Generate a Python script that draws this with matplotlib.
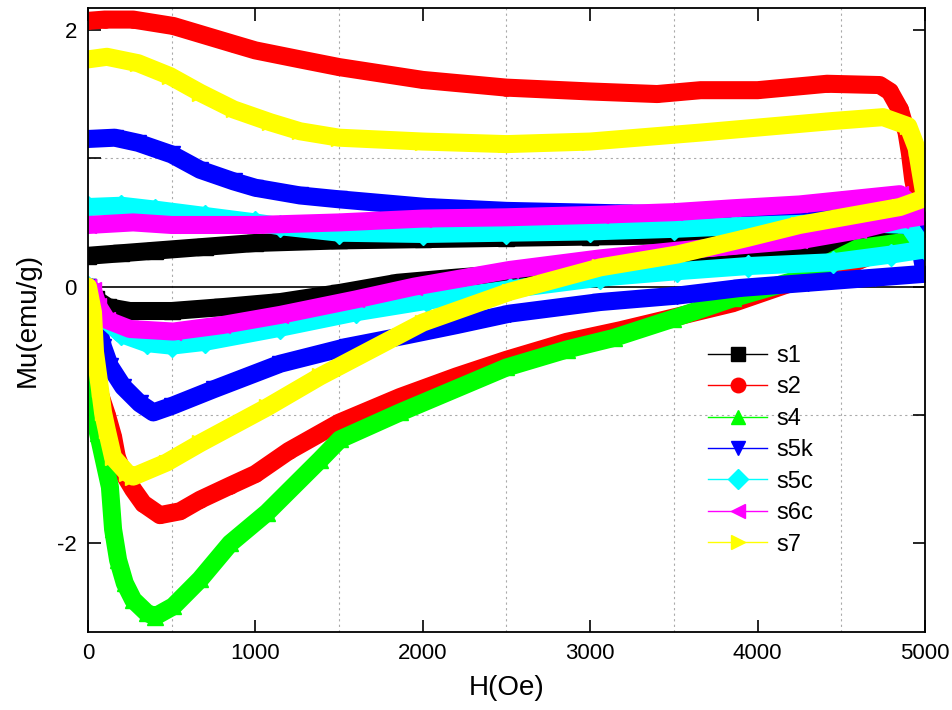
import numpy as np
import matplotlib.pyplot as plt
from matplotlib.ticker import MultipleLocator

plt.rcParams['font.family'] = ['Liberation Sans', 'DejaVu Sans']
plt.rcParams['axes.unicode_minus'] = False

# field sweeps: up branch (0 -> 5000 Oe) then down branch (5000 -> 0 Oe)
h_s1 = [0, 50, 120, 250, 500, 800, 1150, 1500, 1850, 2200, 2500, 2900, 3300, 3700, 4100, 4500, 4750, 5000,
        4500, 4000, 3500, 3000, 2500, 2000, 1500, 1000, 700, 400, 200, 0]
m_s1 = [0.0, -0.10, -0.16, -0.19, -0.19, -0.16, -0.12, -0.05, 0.03, 0.07, 0.10, 0.12, 0.14, 0.16, 0.21, 0.28, 0.34, 0.41,
        0.42, 0.41, 0.40, 0.39, 0.38, 0.37, 0.36, 0.34, 0.31, 0.28, 0.26, 0.24]

h_s2 = [0, 12, 72, 113, 150, 173, 210, 270, 330, 430, 550, 670, 850, 1000, 1200, 1500, 1864, 2200, 2500,
        2860, 3180, 3500, 3850, 4250, 4600, 4850, 4990,
        4950, 4930, 4910, 4890, 4850, 4790, 4730, 4415, 4000, 3660, 3400, 3000, 2500, 2000, 1500,
        1267, 1000, 870, 510, 270, 100, 0]
m_s2 = [0.0, -0.41, -0.84, -1.00, -1.17, -1.33, -1.45, -1.58, -1.69, -1.78, -1.75, -1.66, -1.55, -1.46, -1.28,
        -1.06, -0.86, -0.70, -0.57, -0.43, -0.34, -0.24, -0.13, 0.05, 0.20, 0.33, 0.50,
        0.70, 0.83, 1.04, 1.20, 1.38, 1.52, 1.57, 1.58, 1.53, 1.53, 1.50, 1.52, 1.55, 1.61, 1.71,
        1.77, 1.84, 1.89, 2.03, 2.08, 2.08, 2.07]

h_s4 = [0, 20, 42, 60, 131, 150, 180, 220, 270, 350, 400, 510, 670, 850, 1070, 1386, 1505, 1864, 2500,
        2860, 3140, 3495, 3855, 4200, 4400, 4600, 4890, 5000]
m_s4 = [-0.05, -0.35, -0.65, -1.14, -1.56, -1.89, -2.13, -2.31, -2.44, -2.54, -2.57, -2.49, -2.28, -2.00,
        -1.76, -1.35, -1.19, -0.98, -0.63, -0.49, -0.40, -0.25, -0.09, 0.04, 0.17, 0.30, 0.35, 0.40]

h_s5k = [0, 30, 54, 90, 131, 210, 310, 390, 500, 750, 1150, 1545, 1900, 2200, 2520, 3060, 3520, 3900, 4300,
         4700, 5000,
         4950, 4700, 4200, 3700, 3200, 2500, 2025, 1500, 1267, 1000, 870, 670, 500, 300, 160, 0]
m_s5k = [0.0, -0.12, -0.28, -0.47, -0.62, -0.78, -0.91, -0.98, -0.93, -0.80, -0.60, -0.47, -0.38, -0.30,
         -0.21, -0.12, -0.07, -0.01, 0.03, 0.07, 0.10,
         0.45, 0.55, 0.55, 0.56, 0.57, 0.59, 0.62, 0.68, 0.71, 0.77, 0.82, 0.91, 1.03, 1.12, 1.16, 1.15]

h_s5c = [0, 40, 100, 200, 350, 500, 700, 1150, 1600, 2025, 2520, 3060, 3520, 3940, 4450, 4800, 5000,
         4900, 4500, 3860, 3500, 3000, 2500, 2000, 1500, 1150, 1000, 700, 400, 200, 0]
m_s5c = [0.0, -0.12, -0.25, -0.37, -0.44, -0.46, -0.43, -0.32, -0.20, -0.11, -0.02, 0.07, 0.12, 0.16, 0.19,
         0.25, 0.29,
         0.48, 0.50, 0.47, 0.45, 0.43, 0.42, 0.41, 0.42, 0.47, 0.50, 0.55, 0.60, 0.63, 0.62]

h_s6c = [0, 30, 60, 113, 250, 510, 800, 1150, 1600, 1950, 2520, 3060, 3520, 4250, 4600, 4850, 5000,
         4850, 4250, 3850, 3500, 3060, 2500, 2000, 1500, 1000, 500, 270, 0]
m_s6c = [0.0, -0.03, -0.15, -0.26, -0.33, -0.35, -0.30, -0.22, -0.10, 0.0, 0.13, 0.22, 0.28, 0.36, 0.44,
         0.52, 0.55,
         0.72, 0.64, 0.61, 0.58, 0.56, 0.54, 0.53, 0.50, 0.48, 0.48, 0.50, 0.48]

h_s7 = [0, 30, 42, 72, 90, 113, 150, 233, 270, 470, 670, 1070, 1386, 2000, 2520, 3060, 3520, 3940, 4250,
        4850, 5000,
        4950, 4900, 4750, 4450, 3660, 3000, 2500, 2000, 1500, 1267, 1090, 870, 670, 490, 300, 113, 0]
m_s7 = [0.0, -0.20, -0.51, -0.80, -0.98, -1.12, -1.33, -1.45, -1.48, -1.37, -1.22, -0.94, -0.70, -0.28,
        -0.04, 0.15, 0.25, 0.38, 0.48, 0.62, 0.69,
        1.08, 1.25, 1.32, 1.29, 1.20, 1.13, 1.11, 1.13, 1.16, 1.21, 1.28, 1.38, 1.51, 1.64, 1.74, 1.79, 1.77]

names = ['s1', 's2', 's4', 's5k', 's5c', 's6c', 's7']
colors = ['#000000', '#ff0000', '#00ff00', '#0000ff', '#00ffff', '#ff00ff', '#ffff00']
markers = ['s', 'o', '^', 'v', 'D', '<', '>']
hs = [h_s1, h_s2, h_s4, h_s5k, h_s5c, h_s6c, h_s7]
ms = [m_s1, m_s2, m_s4, m_s5k, m_s5c, m_s6c, m_s7]

fig = plt.figure(figsize=(9.52, 7.10), dpi=100)
ax = fig.add_axes([0.0924, 0.1099, 0.8792, 0.8788])

ax.axhline(0, color='black', lw=1.2, zorder=1.5)

for name, h, m, c, mk in zip(names, hs, ms, colors, markers):
    # dense Origin-style markers show up as a thick band
    ax.plot(h, m, color=c, lw=13, solid_joinstyle='round', solid_capstyle='round', zorder=2)
    ax.plot(h, m, color=c, lw=1, marker=mk, ms=11, mec=c, mfc=c, label=name, zorder=2)

ax.set_xlim(0, 5000)
ax.set_ylim(-2.69, 2.17)
ax.xaxis.set_major_locator(MultipleLocator(1000))
ax.xaxis.set_minor_locator(MultipleLocator(500))
ax.yaxis.set_major_locator(MultipleLocator(2))
ax.yaxis.set_minor_locator(MultipleLocator(1))
ax.grid(which='minor', color='#aaaaaa', ls=(0, (2, 3)), lw=0.8)
ax.set_axisbelow(True)

ax.tick_params(which='both', direction='in', top=True, right=True, width=1.2)
ax.tick_params(which='major', length=9, labelsize=16, pad=8)
ax.tick_params(axis='y', which='minor', length=9)
ax.tick_params(axis='x', which='minor', length=0)
for s in ax.spines.values():
    s.set_linewidth(1.3)

ax.set_xlabel('H(Oe)', fontsize=20, labelpad=8)
ax.set_ylabel('Mu(emu/g)', fontsize=20, labelpad=12)

ax.legend(loc='upper left', bbox_to_anchor=(0.741, 0.46), frameon=False, fontsize=17,
          handlelength=2.5, handletextpad=0.4, labelspacing=0.4, borderpad=0, borderaxespad=0,
          markerscale=0.95)

fig.savefig('out.png', dpi=100)
